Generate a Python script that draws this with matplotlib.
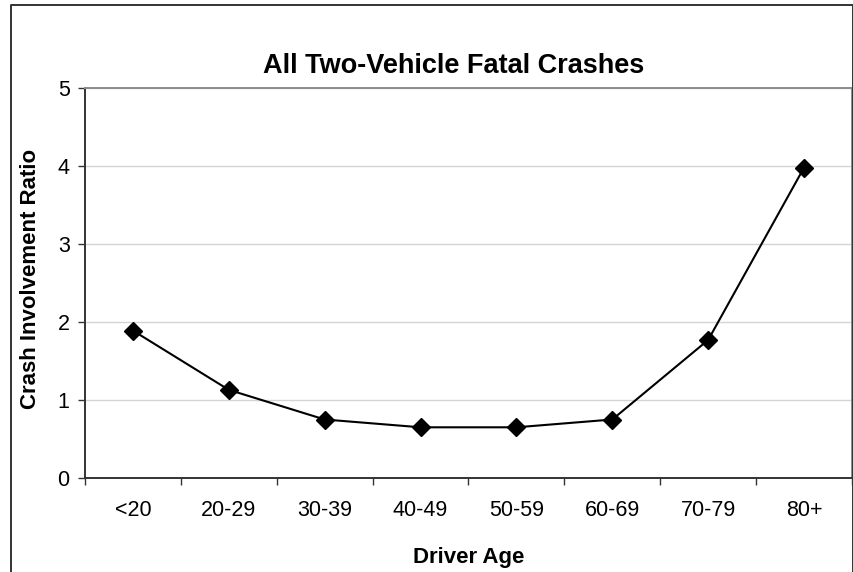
import matplotlib
matplotlib.use('Agg')  # noqa

import matplotlib.pyplot as plt  # noqa
from matplotlib.lines import Line2D  # noqa

# chart data
AGE_GROUPS = ['<20', '20-29', '30-39', '40-49', '50-59', '60-69', '70-79', '80+']
CRASH_RATIO = [1.89, 1.13, 0.75, 0.65, 0.65, 0.75, 1.77, 3.98]
Y_TICKS = [0, 1, 2, 3, 4, 5]

TITLE = "All Two-Vehicle Fatal Crashes"
X_LABEL = "Driver Age"
Y_LABEL = "Crash Involvement Ratio"

W, H = 854, 572

plt.rcParams['font.family'] = ['Liberation Sans', 'DejaVu Sans']


def fx(px):
    return px / W


def fy(py):
    return 1 - py / H


def main():
    fig = plt.figure(figsize=(W / 100, H / 100), dpi=100)
    fig.patch.set_facecolor('white')

    # outer chart frame (bottom is cut off in the reference)
    frame = Line2D([fx(11.5), fx(11.5), fx(853), fx(853)],
                   [fy(H + 2), fy(4.5), fy(4.5), fy(H + 2)],
                   transform=fig.transFigure, color='#333333', lw=1.4)
    fig.add_artist(frame)

    ax = fig.add_axes([fx(85), fy(478), fx(852) - fx(85), fy(88) - fy(478)])
    x = list(range(len(AGE_GROUPS)))
    ax.plot(x, CRASH_RATIO, color='black', lw=1.5, marker='D',
            markersize=9, zorder=3, clip_on=False)

    ax.set_xlim(-0.5, len(AGE_GROUPS) - 0.5)
    ax.set_ylim(0, 5)
    ax.set_yticks(Y_TICKS)
    ax.set_yticklabels([str(v) for v in Y_TICKS])
    ax.yaxis.grid(True, color='#d4d4d4', lw=1.0)
    ax.set_axisbelow(True)

    # category boundaries get the tick marks, labels sit in between
    ax.set_xticks([i - 0.5 for i in range(len(AGE_GROUPS) + 1)])
    ax.set_xticklabels([])
    ax.set_xticks(x, minor=True)
    ax.set_xticklabels(AGE_GROUPS, minor=True)
    ax.tick_params(axis='x', which='major', length=5, width=1,
                   color='#333333', direction='out')
    ax.tick_params(axis='x', which='minor', length=0, pad=16,
                   labelsize=15.5)
    ax.tick_params(axis='y', length=5, width=1, color='#333333',
                   pad=6, labelsize=15.5)

    for side in ('left', 'bottom'):
        ax.spines[side].set_color('#333333')
        ax.spines[side].set_linewidth(1.4)
    for side in ('top', 'right'):
        ax.spines[side].set_color('#8c8c8c')
        ax.spines[side].set_linewidth(1.4)

    fig.text(fx(454), fy(66), TITLE, ha='center', va='center',
             fontsize=19.5, fontweight='bold')
    fig.text(fx(469), fy(558), X_LABEL, ha='center', va='center',
             fontsize=16, fontweight='bold')
    fig.text(fx(31), fy(279), Y_LABEL, ha='center', va='center',
             rotation=90, fontsize=16, fontweight='bold')

    fig.savefig('out.png', dpi=100, facecolor='white')


if __name__ == '__main__':
    main()
